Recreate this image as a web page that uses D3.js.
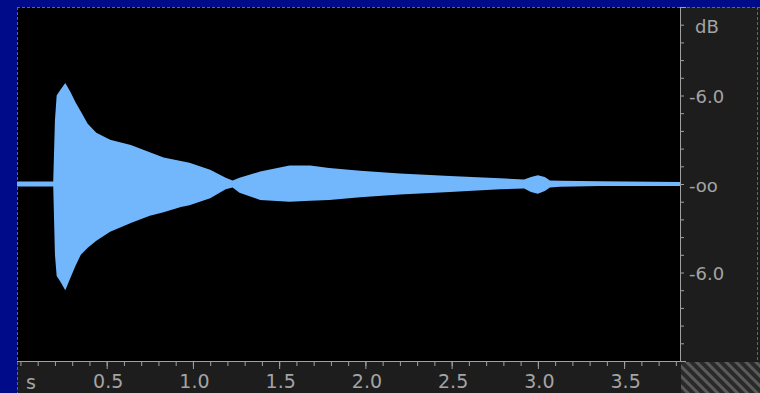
<!DOCTYPE html>
<html lang="en">
  <head>
    <meta charset="UTF-8" />
    <title>Waveform</title>
    <script src="https://d3js.org/d3.v7.min.js"></script>
    <style>
      body {
        margin: 0;
        background: #000b8a;
        overflow: hidden;
      }
      text {
        font-family: "DejaVu Sans", sans-serif;
        fill: #a4a4a4;
      }
    </style>
  </head>
  <body>
    <svg id="chart" width="760" height="393"></svg>

    <script>
      // envelope of the recording (seconds, amplitude 0..1)
      const times = [
        -0.02, 0.19, 0.2, 0.21, 0.23, 0.26, 0.29, 0.32, 0.35, 0.39, 0.44, 0.52,
        0.64, 0.75, 0.83, 0.93, 0.98, 1.1, 1.19, 1.23, 1.27, 1.39, 1.56, 1.68,
        1.79, 1.97, 2.2, 2.49, 2.78, 2.92, 2.96, 3.0, 3.04, 3.07, 3.13, 3.36,
        3.824,
      ];
      const upper = [
        0.014, 0.014, 0.36, 0.5, 0.53, 0.57, 0.52, 0.46, 0.41, 0.34, 0.29, 0.25,
        0.22, 0.18, 0.15, 0.13, 0.12, 0.08, 0.035, 0.02, 0.035, 0.07, 0.105,
        0.105, 0.09, 0.075, 0.06, 0.045, 0.032, 0.025, 0.04, 0.05, 0.04, 0.02,
        0.018, 0.015, 0.012,
      ];
      const lower = [
        0.014, 0.014, 0.4, 0.52, 0.55, 0.6, 0.53, 0.46, 0.4, 0.36, 0.32, 0.27,
        0.22, 0.18, 0.16, 0.13, 0.12, 0.08, 0.03, 0.02, 0.05, 0.09, 0.1, 0.095,
        0.09, 0.075, 0.06, 0.045, 0.03, 0.025, 0.045, 0.055, 0.04, 0.02, 0.015,
        0.012, 0.012,
      ];

      const timeTicks = d3.range(0, 39).map((i) => i / 10);
      const timeLabels = [0.5, 1.0, 1.5, 2.0, 2.5, 3.0, 3.5];
      const ampTicks = d3.range(-10, 11).map((i) => i / 10);
      const ampLabels = { "-0.5": "-6.0", "0": "-oo", "0.5": "-6.0" };

      const svg = d3.select("#chart");
      const plot = { left: 17, right: 680, top: 7, bottom: 361 };

      const x = d3
        .scaleLinear()
        .domain([-0.02, 3.824])
        .range([plot.left, plot.right]);
      const y = d3.scaleLinear().domain([-1, 1]).range([plot.bottom, plot.top]);

      // hatch for the corner box
      const defs = svg.append("defs");
      defs
        .append("pattern")
        .attr("id", "hatch")
        .attr("width", 7)
        .attr("height", 7)
        .attr("patternUnits", "userSpaceOnUse")
        .attr("patternTransform", "rotate(45)")
        .call((p) => {
          p.append("rect").attr("width", 7).attr("height", 7).attr("fill", "#2a2a2a");
          p.append("rect").attr("width", 7).attr("height", 3).attr("fill", "#5a5a5a");
        });
      defs
        .append("clipPath")
        .attr("id", "clip")
        .append("rect")
        .attr("x", plot.left)
        .attr("y", plot.top)
        .attr("width", plot.right - plot.left)
        .attr("height", plot.bottom - plot.top);

      // panels
      svg
        .append("rect")
        .attr("x", plot.left)
        .attr("y", plot.top)
        .attr("width", 760 - plot.left)
        .attr("height", 393 - plot.top)
        .attr("fill", "#1d1d1d");
      svg
        .append("rect")
        .attr("x", plot.left)
        .attr("y", plot.top)
        .attr("width", plot.right - plot.left)
        .attr("height", plot.bottom - plot.top)
        .attr("fill", "#000");
      svg
        .append("rect")
        .attr("x", plot.right + 1)
        .attr("y", plot.bottom + 1)
        .attr("width", 760 - plot.right)
        .attr("height", 393 - plot.bottom)
        .attr("fill", "url(#hatch)");

      // dashed outline
      const border = svg
        .append("g")
        .attr("stroke", "#666")
        .attr("stroke-dasharray", "3,2")
        .attr("fill", "none");
      border
        .append("line")
        .attr("x1", plot.left + 0.5)
        .attr("x2", plot.left + 0.5)
        .attr("y1", plot.top)
        .attr("y2", 393);
      border
        .append("line")
        .attr("x1", plot.left)
        .attr("x2", 760)
        .attr("y1", plot.top + 0.5)
        .attr("y2", plot.top + 0.5);
      border
        .append("line")
        .attr("x1", 757.5)
        .attr("x2", 757.5)
        .attr("y1", plot.top)
        .attr("y2", plot.bottom);

      // waveform
      const wave = times.map((t, i) => ({ t, hi: upper[i], lo: lower[i] }));
      const area = d3
        .area()
        .x((d) => x(d.t))
        .y0((d) => y(-d.lo))
        .y1((d) => y(d.hi));
      svg
        .append("path")
        .datum(wave)
        .attr("clip-path", "url(#clip)")
        .attr("fill", "#72b6fc")
        .attr("d", area);

      // right dB axis
      const yAxis = svg
        .append("g")
        .attr("transform", `translate(${plot.right},0)`)
        .call(
          d3
            .axisRight(y)
            .tickValues(ampTicks)
            .tickSize(4)
            .tickPadding(5)
            .tickFormat((d) => ampLabels[String(Math.round(d * 10) / 10)] || "")
        );
      yAxis.select(".domain").remove();
      yAxis.selectAll("line").attr("stroke", "#a0a0a0");
      yAxis
        .selectAll("text")
        .attr("fill", "#a4a4a4")
        .style("font-size", "18px")
        .attr("dy", "0.4em");
      svg
        .append("line")
        .attr("x1", plot.right + 0.5)
        .attr("x2", plot.right + 0.5)
        .attr("y1", plot.top)
        .attr("y2", plot.bottom + 1)
        .attr("stroke", "#a0a0a0");
      svg
        .append("text")
        .attr("x", 695)
        .attr("y", 33)
        .style("font-size", "18px")
        .text("dB");

      // bottom time axis
      const xMinor = svg
        .append("g")
        .attr("transform", `translate(0,${plot.bottom})`)
        .call(d3.axisBottom(x).tickValues(timeTicks).tickSize(5).tickFormat(""));
      xMinor.select(".domain").remove();
      xMinor.selectAll("line").attr("stroke", "#a0a0a0");

      const xMajor = svg
        .append("g")
        .attr("transform", `translate(0,${plot.bottom})`)
        .call(
          d3
            .axisBottom(x)
            .tickValues(timeLabels)
            .tickSize(8)
            .tickPadding(6)
            .tickFormat(d3.format(".1f"))
        );
      xMajor.select(".domain").remove();
      xMajor.selectAll("line").attr("stroke", "#a0a0a0");
      xMajor
        .selectAll("text")
        .attr("fill", "#a4a4a4")
        .attr("dx", "1")
        .style("font-size", "19px");

      svg
        .append("line")
        .attr("x1", plot.left)
        .attr("x2", plot.right + 6)
        .attr("y1", plot.bottom + 0.5)
        .attr("y2", plot.bottom + 0.5)
        .attr("stroke", "#a0a0a0");
      svg
        .append("line")
        .attr("x1", plot.right)
        .attr("x2", plot.right + 6)
        .attr("y1", plot.top + 0.5)
        .attr("y2", plot.top + 0.5)
        .attr("stroke", "#a0a0a0");
      svg
        .append("text")
        .attr("x", 26)
        .attr("y", 389)
        .style("font-size", "19px")
        .text("s");
    </script>
  </body>
</html>
